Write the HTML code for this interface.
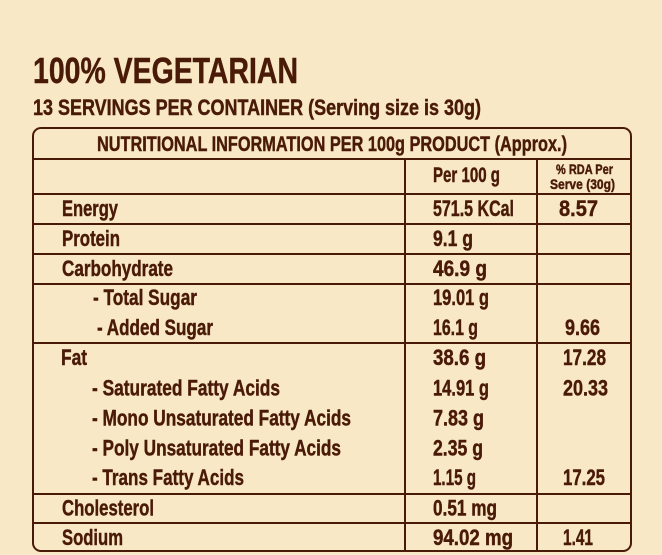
<!DOCTYPE html>
<html>
<head>
<meta charset="utf-8">
<style>
  html,body{margin:0;padding:0;background:#f9e8c5;}
  svg{display:block;}
  text{font-family:"Liberation Sans",Arial,sans-serif;font-weight:bold;fill:#4a1a08;stroke:#4a1a08;stroke-width:0.45;}
</style>
</head>
<body>
<svg width="662" height="555" viewBox="0 0 662 555" xmlns="http://www.w3.org/2000/svg">
  <rect x="0" y="0" width="662" height="555" fill="#f9e8c5"/>

  <!-- Titles -->
  <text x="33" y="83" font-size="36" stroke-width="0.8" textLength="265" lengthAdjust="spacingAndGlyphs">100% VEGETARIAN</text>
  <text x="33" y="115" font-size="22" textLength="448" lengthAdjust="spacingAndGlyphs">13 SERVINGS PER CONTAINER (Serving size is 30g)</text>

  <!-- Box -->
  <rect x="33" y="128" width="598" height="423" rx="8" ry="8" fill="none" stroke="#4a1a08" stroke-width="2"/>
  <g stroke="#4a1a08" stroke-width="2">
    <line x1="33" y1="159" x2="631" y2="159"/>
    <line x1="33" y1="194" x2="631" y2="194"/>
    <line x1="33" y1="224" x2="631" y2="224"/>
    <line x1="33" y1="254" x2="631" y2="254"/>
    <line x1="33" y1="284" x2="631" y2="284"/>
    <line x1="33" y1="343" x2="631" y2="343"/>
    <line x1="33" y1="494" x2="631" y2="494"/>
    <line x1="33" y1="523" x2="631" y2="523"/>
    <line x1="405" y1="159" x2="405" y2="551"/>
    <line x1="537" y1="159" x2="537" y2="551"/>
  </g>

  <!-- Header -->
  <text x="97" y="151" font-size="21" textLength="470" lengthAdjust="spacingAndGlyphs">NUTRITIONAL INFORMATION PER 100g PRODUCT (Approx.)</text>
  <text x="433" y="182" font-size="21" textLength="67" lengthAdjust="spacingAndGlyphs">Per 100 g</text>
  <text x="556" y="174" font-size="14" stroke-width="0.3" textLength="57" lengthAdjust="spacingAndGlyphs">% RDA Per</text>
  <text x="550" y="189" font-size="14" stroke-width="0.3" textLength="65" lengthAdjust="spacingAndGlyphs">Serve (30g)</text>

  <!-- Labels -->
  <g font-size="22">
    <text x="62" y="216" textLength="56" lengthAdjust="spacingAndGlyphs">Energy</text>
    <text x="62" y="246" textLength="58" lengthAdjust="spacingAndGlyphs">Protein</text>
    <text x="62" y="276" textLength="111" lengthAdjust="spacingAndGlyphs">Carbohydrate</text>
    <text x="93" y="305" textLength="104" lengthAdjust="spacingAndGlyphs">- Total Sugar</text>
    <text x="97" y="335" textLength="116" lengthAdjust="spacingAndGlyphs">- Added Sugar</text>
    <text x="61" y="365" textLength="26" lengthAdjust="spacingAndGlyphs">Fat</text>
    <text x="92" y="395.5" textLength="188" lengthAdjust="spacingAndGlyphs">- Saturated Fatty Acids</text>
    <text x="92" y="425.5" textLength="259" lengthAdjust="spacingAndGlyphs">- Mono Unsaturated Fatty Acids</text>
    <text x="92" y="455.5" textLength="249" lengthAdjust="spacingAndGlyphs">- Poly Unsaturated Fatty Acids</text>
    <text x="92" y="485" textLength="152" lengthAdjust="spacingAndGlyphs">- Trans Fatty Acids</text>
    <text x="62" y="515.5" textLength="92" lengthAdjust="spacingAndGlyphs">Cholesterol</text>
    <text x="62" y="545" textLength="61" lengthAdjust="spacingAndGlyphs">Sodium</text>
  </g>

  <!-- Per 100 g values -->
  <g font-size="22">
    <text x="433" y="216" textLength="81" lengthAdjust="spacingAndGlyphs">571.5 KCal</text>
    <text x="433" y="246" textLength="40" lengthAdjust="spacingAndGlyphs">9.1 g</text>
    <text x="433" y="276" textLength="54" lengthAdjust="spacingAndGlyphs">46.9 g</text>
    <text x="433" y="305" textLength="56" lengthAdjust="spacingAndGlyphs">19.01 g</text>
    <text x="433" y="335" textLength="45" lengthAdjust="spacingAndGlyphs">16.1 g</text>
    <text x="433" y="365" textLength="53" lengthAdjust="spacingAndGlyphs">38.6 g</text>
    <text x="433" y="395.5" textLength="56" lengthAdjust="spacingAndGlyphs">14.91 g</text>
    <text x="433" y="425.5" textLength="51" lengthAdjust="spacingAndGlyphs">7.83 g</text>
    <text x="433" y="455.5" textLength="50" lengthAdjust="spacingAndGlyphs">2.35 g</text>
    <text x="433" y="485" textLength="43" lengthAdjust="spacingAndGlyphs">1.15 g</text>
    <text x="433" y="515.5" textLength="64" lengthAdjust="spacingAndGlyphs">0.51 mg</text>
    <text x="433" y="545" textLength="80" lengthAdjust="spacingAndGlyphs">94.02 mg</text>
  </g>

  <!-- RDA values -->
  <g font-size="22">
    <text x="559" y="216" textLength="39" lengthAdjust="spacingAndGlyphs">8.57</text>
    <text x="565" y="335" textLength="35" lengthAdjust="spacingAndGlyphs">9.66</text>
    <text x="563" y="365" textLength="43" lengthAdjust="spacingAndGlyphs">17.28</text>
    <text x="563" y="395.5" textLength="45" lengthAdjust="spacingAndGlyphs">20.33</text>
    <text x="563" y="485" textLength="42" lengthAdjust="spacingAndGlyphs">17.25</text>
    <text x="563" y="545" textLength="30" lengthAdjust="spacingAndGlyphs">1.41</text>
  </g>
</svg>
</body>
</html>
